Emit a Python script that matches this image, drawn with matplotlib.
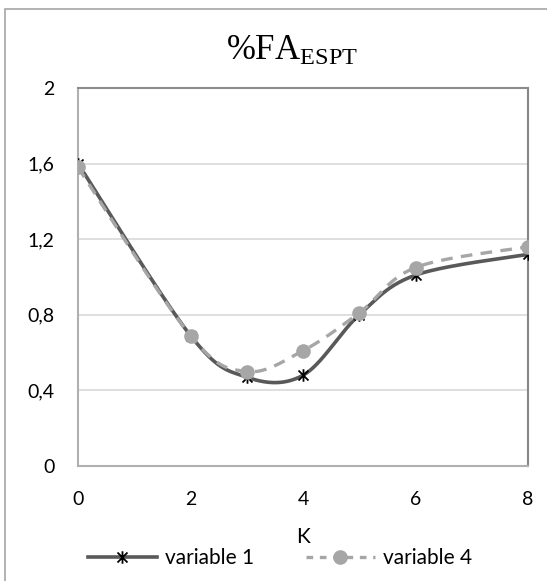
import numpy as np
import matplotlib
matplotlib.use("Agg")
import matplotlib.pyplot as plt
from matplotlib.path import Path
from matplotlib.patches import Rectangle
from matplotlib.lines import Line2D

# ---- data ----
k_values = [0, 2, 3, 4, 5, 6, 8]
variable_1 = [1.60, 0.69, 0.47, 0.48, 0.80, 1.01, 1.12]
variable_4 = [1.58, 0.69, 0.50, 0.61, 0.81, 1.05, 1.16]
series_labels = ["variable 1", "variable 4"]
y_ticks = [0, 0.4, 0.8, 1.2, 1.6, 2.0]
y_tick_labels = ["0", "0,4", "0,8", "1,2", "1,6", "2"]
x_ticks = [0, 2, 4, 6, 8]
x_tick_labels = ["0", "2", "4", "6", "8"]
title_text = r"$\%\mathrm{FA}_{\mathrm{ESPT}}$"
x_label = "K"


def smooth(xs, ys, n=40):
    """Excel-style smoothing: cubic Bezier through points with Catmull-Rom tangents."""
    P = np.column_stack([xs, ys]).astype(float)
    m = len(P)
    out = []
    for i in range(m - 1):
        p0 = P[i - 1] if i > 0 else P[i]
        p1 = P[i]
        p2 = P[i + 1]
        p3 = P[i + 2] if i + 2 < m else P[i + 1]
        c1 = p1 + (p2 - p0) / 6.0
        c2 = p2 - (p3 - p1) / 6.0
        t = np.linspace(0, 1, n)[:, None]
        seg = ((1 - t) ** 3) * p1 + 3 * ((1 - t) ** 2) * t * c1 + 3 * (1 - t) * t ** 2 * c2 + t ** 3 * p2
        out.append(seg if i == 0 else seg[1:])
    seg = np.vstack(out)
    return seg[:, 0], seg[:, 1]


# asterisk marker: vertical bar + X
ast_verts = [(0, -1), (0, 1), (-0.8, -0.8), (0.8, 0.8), (-0.8, 0.8), (0.8, -0.8)]
ast_codes = [Path.MOVETO, Path.LINETO] * 3
asterisk = Path(ast_verts, ast_codes)

plt.rcParams['font.family'] = ['Lato', 'DejaVu Sans']
plt.rcParams['mathtext.fontset'] = 'custom'
plt.rcParams['mathtext.rm'] = 'Liberation Serif'
plt.rcParams['mathtext.it'] = 'Liberation Serif:italic'

FS = 14
LFS = 15

W, H = 547, 581
fig = plt.figure(figsize=(W / 100, H / 100), dpi=100)
ax = fig.add_axes([78 / W, 1 - 466 / H, (528 - 78) / W, (466 - 88) / H])

c1 = '#595959'
c4 = '#a6a6a6'

sx, sy = smooth(k_values, variable_1)
ax.plot(sx, sy, color=c1, lw=2.6, solid_capstyle='round', zorder=3)
ax.plot(k_values, variable_1, ls='none', marker=asterisk, ms=9, mec='black', mfc='none',
        mew=1.3, zorder=4)

sx4, sy4 = smooth(k_values, variable_4)
ax.plot(sx4, sy4, color=c4, lw=2.4, ls=(0, (3.5, 2.5)), zorder=5)
ax.plot(k_values, variable_4, ls='none', marker='o', ms=9.5, mec=c4, mfc=c4, zorder=6)

ax.set_xlim(0, 8)
ax.set_ylim(0, 2)
ax.set_yticks(y_ticks)
ax.set_yticklabels(y_tick_labels)
ax.set_xticks(x_ticks)
ax.set_xticklabels(x_tick_labels)
ax.tick_params(axis='both', length=0, labelsize=FS, colors='black')
ax.tick_params(axis='y', pad=17)
ax.tick_params(axis='x', pad=18)
ax.grid(axis='y', color='#d9d9d9', lw=1.2)
ax.set_axisbelow(True)
for s in ['left', 'bottom', 'top']:
    ax.spines[s].set_color('#b0b0b0')
    ax.spines[s].set_linewidth(1.5)
ax.spines['right'].set_color('#868686')
ax.spines['right'].set_linewidth(1.5)
ax.spines['top'].set_color('#8c8c8c')

ax.set_xlabel(x_label, fontsize=FS + 1, labelpad=14)

# legend proxies
h1 = Line2D([], [], color=c1, lw=2.6, marker=asterisk, ms=9, mec='black', mew=1.3)
h4 = Line2D([], [], color=c4, lw=2.4, ls=(0, (2.0, 2.0)), marker='o', ms=9.5, mec=c4, mfc=c4)
fig.legend([h1, h4], series_labels, loc='center', bbox_to_anchor=(280 / W, 1 - 558 / H),
           ncol=2, frameon=False, fontsize=LFS, handlelength=3.3, handletextpad=0.4,
           columnspacing=2.5, borderpad=0)

fig.text(292 / W, 1 - 60 / H, title_text, ha='center', va='baseline', fontsize=25)

# outer chart border
fig.patches.append(Rectangle((5 / W, -0.05), 1.2, 1 - 9 / H + 0.05, transform=fig.transFigure,
                             fill=False, ec='#a6a6a6', lw=1.2))

fig.savefig('out.png', dpi=100)
